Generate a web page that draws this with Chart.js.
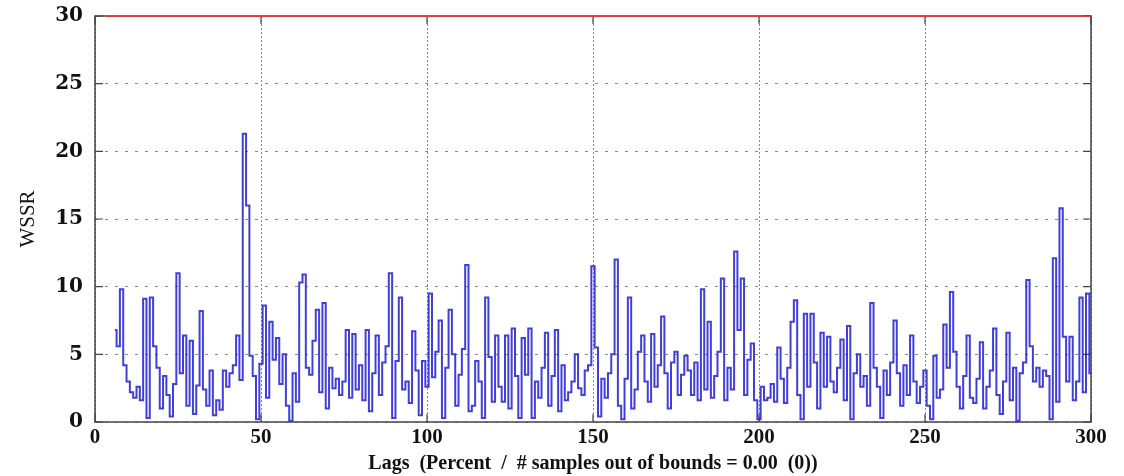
<!DOCTYPE html>
<html>
<head>
<meta charset="utf-8">
<script src="https://cdn.jsdelivr.net/npm/chart.js@4"></script>
<style>
  html, body { margin: 0; padding: 0; background: #fff; }
  #wrap { width: 1124px; height: 476px; }
</style>
</head>
<body>
<div id="wrap"><canvas id="c"></canvas></div>
<script>
// WSSR per lag (lag 6 .. 300)
const firstLag = 6;
const wssr = [
  6.8, 5.6, 9.8, 4.2, 3.0, 2.2, 1.8, 2.6, 1.6, 9.1,
  0.3, 9.2, 5.6, 4.0, 1.0, 3.4, 2.0, 0.4, 2.8, 11.0,
  3.6, 6.4, 1.2, 6.0, 0.6, 2.7, 8.2, 2.4, 1.2, 3.8,
  0.5, 1.6, 0.9, 3.8, 2.6, 3.6, 4.2, 6.4, 3.1, 21.3,
  16.0, 4.9, 3.4, 0.2, 4.3, 8.6, 1.8, 7.4, 4.6, 6.2,
  2.8, 5.0, 1.2, 0.1, 3.6, 1.5, 10.3, 10.9, 4.0, 3.5,
  6.0, 8.3, 2.2, 8.8, 1.0, 4.0, 2.5, 3.2, 2.0, 3.0,
  6.8, 1.8, 6.5, 2.4, 4.2, 1.6, 6.8, 0.8, 3.6, 6.4,
  2.0, 4.4, 5.6, 11.0, 0.3, 4.5, 9.2, 2.4, 3.0, 1.4,
  6.7, 3.8, 0.5, 4.5, 2.6, 9.5, 3.3, 5.2, 7.5, 0.3,
  4.0, 8.3, 5.0, 1.2, 3.5, 5.4, 11.6, 0.8, 1.2, 4.5,
  3.0, 0.3, 9.2, 4.8, 1.5, 6.4, 2.6, 1.5, 6.4, 1.0,
  6.9, 3.4, 0.3, 6.2, 3.5, 6.9, 0.3, 3.0, 1.8, 4.0,
  6.6, 1.2, 3.4, 6.8, 0.8, 4.2, 1.6, 2.2, 3.0, 5.0,
  2.5, 2.0, 3.8, 4.2, 11.5, 5.5, 0.4, 3.2, 1.8, 3.6,
  5.0, 12.0, 1.2, 0.2, 3.2, 9.2, 1.0, 2.4, 5.2, 6.4,
  3.0, 1.5, 6.5, 2.6, 4.2, 7.8, 3.6, 1.0, 4.4, 5.2,
  2.0, 3.5, 4.9, 3.8, 2.0, 4.4, 1.6, 9.8, 2.4, 7.4,
  1.8, 3.4, 5.2, 10.6, 1.6, 4.0, 2.4, 12.6, 6.8, 10.6,
  2.0, 4.6, 5.8, 1.6, 0.2, 2.6, 1.6, 1.8, 2.8, 1.5,
  5.5, 3.2, 1.4, 4.0, 7.4, 9.0, 2.0, 0.2, 8.0, 2.6,
  8.0, 4.4, 1.0, 6.6, 2.6, 6.3, 3.0, 2.2, 4.0, 6.1,
  1.6, 7.1, 0.2, 3.6, 5.0, 2.6, 3.4, 1.2, 8.8, 4.0,
  2.6, 0.3, 3.8, 2.0, 4.4, 7.5, 3.6, 1.2, 4.2, 2.0,
  6.4, 3.0, 1.4, 2.6, 3.8, 1.2, 0.2, 4.9, 1.8, 2.4,
  7.2, 4.0, 9.6, 5.2, 2.6, 1.0, 3.4, 6.4, 1.8, 1.4,
  3.2, 5.9, 1.0, 2.6, 3.8, 6.9, 2.0, 0.6, 3.0, 6.6,
  1.6, 4.0, 0.1, 3.6, 4.4, 10.5, 5.6, 3.0, 4.0, 2.6,
  3.8, 3.4, 0.2, 12.1, 1.5, 15.8, 6.3, 3.0, 6.3, 1.6,
  3.0, 9.2, 2.2, 9.5, 3.6
];
// bound line
const boundLags = [3, 300];
const boundValue = 30;

const xTicks = [0, 50, 100, 150, 200, 250, 300];
const yTicks = [0, 5, 10, 15, 20, 25, 30];

const wssrPoints = wssr.map((v, i) => ({ x: firstLag + i, y: v }));
const boundPoints = boundLags.map(x => ({ x: x, y: boundValue }));

// MATLAB-like box with inward tick marks (drawn under the data)
const boxPlugin = {
  id: "box",
  beforeDatasetsDraw(chart) {
    const { ctx, chartArea: a, scales } = chart;
    ctx.save();
    ctx.strokeStyle = "#444";
    ctx.lineWidth = 1.5;
    ctx.strokeRect(a.left, a.top, a.right - a.left, a.bottom - a.top);
    ctx.lineWidth = 1.2;
    ctx.beginPath();
    xTicks.forEach(t => {
      const px = scales.x.getPixelForValue(t);
      ctx.moveTo(px, a.bottom); ctx.lineTo(px, a.bottom - 8);
      ctx.moveTo(px, a.top); ctx.lineTo(px, a.top + 8);
    });
    yTicks.forEach(t => {
      const py = scales.y.getPixelForValue(t);
      ctx.moveTo(a.left, py); ctx.lineTo(a.left + 8, py);
      ctx.moveTo(a.right, py); ctx.lineTo(a.right - 8, py);
    });
    ctx.stroke();
    ctx.restore();
  }
};

new Chart(document.getElementById("c"), {
  type: "line",
  data: {
    datasets: [
      {
        data: wssrPoints,
        borderColor: "rgba(30,30,210,0.85)",
        borderWidth: 2,
        pointRadius: 0,
        stepped: "middle"
      },
      {
        data: boundPoints,
        borderColor: "#e03c3c",
        borderWidth: 2.2,
        pointRadius: 0
      }
    ]
  },
  options: {
    responsive: true,
    maintainAspectRatio: false,
    animation: false,
    layout: { padding: { left: 0, right: 33, top: 16, bottom: 0 } },
    plugins: {
      legend: { display: false },
      tooltip: { enabled: false }
    },
    scales: {
      x: {
        type: "linear",
        min: 0,
        max: 300,
        afterBuildTicks: s => { s.ticks = xTicks.map(v => ({ value: v })); },
        afterFit: s => { s.height = 54; s.paddingLeft = 0; s.paddingRight = 0; },
        ticks: {
          color: "#111",
          padding: 3,
          maxRotation: 0,
          font: { family: "Liberation Serif", size: 21, weight: "bold" }
        },
        grid: { color: "#888", lineWidth: 1, drawTicks: false },
        border: { display: false, dash: [2, 2] },
        title: {
          display: true,
          text: "Lags  (Percent  /  # samples out of bounds = 0.00  (0))",
          color: "#111",
          padding: { top: 0, bottom: 0 },
          font: { family: "Liberation Serif", size: 20, weight: "bold" }
        }
      },
      y: {
        min: 0,
        max: 30,
        afterBuildTicks: s => { s.ticks = yTicks.map(v => ({ value: v })); },
        afterFit: s => { s.width = 95; s.paddingTop = 0; s.paddingBottom = 0; },
        ticks: {
          color: "#111",
          padding: 12,
          font: { family: "DejaVu Serif", size: 20, weight: "bold" }
        },
        grid: { color: "#888", lineWidth: 1, drawTicks: false },
        border: { display: false, dash: [3, 7] },
        title: {
          display: true,
          text: "WSSR",
          color: "#111",
          padding: { top: 16, bottom: 2 },
          font: { family: "Liberation Serif", size: 21 }
        }
      }
    }
  },
  plugins: [boxPlugin]
});
</script>
</body>
</html>
